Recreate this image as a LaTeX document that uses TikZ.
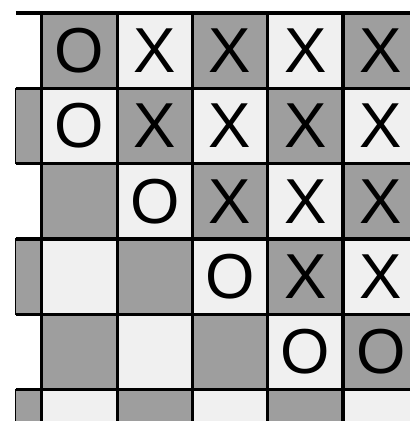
\documentclass[tikz,border=0pt]{standalone}
\usepackage{fontspec}
\setsansfont{Liberation Sans}
\definecolor{boardgray}{RGB}{158,158,158}
\definecolor{boardwhite}{RGB}{240,240,240}
\begin{document}
\begin{tikzpicture}[x=1cm,y=-1cm,
  gridline/.style={line width=1.2pt},
  piece/.style={font=\sffamily\fontsize{24}{24}\selectfont,inner sep=0pt}]
\useasboundingbox (-0.556,-0.173) rectangle (4.887,5.418);
\clip (-0.556,-0.173) rectangle (4.887,5.418);
% squares of the board
\fill[boardwhite] (0,0) rectangle (6,6);
\foreach \r in {1,...,6}
  \foreach \c in {1,...,6} {
    \ifodd\numexpr\r+\c\relax\else
      \fill[boardgray] (\c-1,\r-1) rectangle (\c,\r);
    \fi
  }
% cut-off squares on the left
\foreach \r in {2,4,6}
  \filldraw[boardgray,draw=black,line width=0.4pt] (-0.344,\r-1) rectangle (0,\r);
% grid
\foreach \r in {0,...,6}
  \draw[gridline] (-0.344,\r) -- (6,\r);
\foreach \c in {0,...,6}
  \draw[gridline] (\c,0) -- (\c,6);
% pieces
\foreach \c/\r [count=\i] in {1/1,1/2,2/3,3/4,4/5,5/5}
  \node[piece] (o\i) at (\c-0.5,\r-0.5) {O};
\foreach \c/\r [count=\i] in {2/1,3/1,4/1,5/1,2/2,3/2,4/2,5/2,3/3,4/3,5/3,4/4,5/4}
  \node[piece] (x\i) at (\c-0.5,\r-0.5) {X};
\end{tikzpicture}
\end{document}
